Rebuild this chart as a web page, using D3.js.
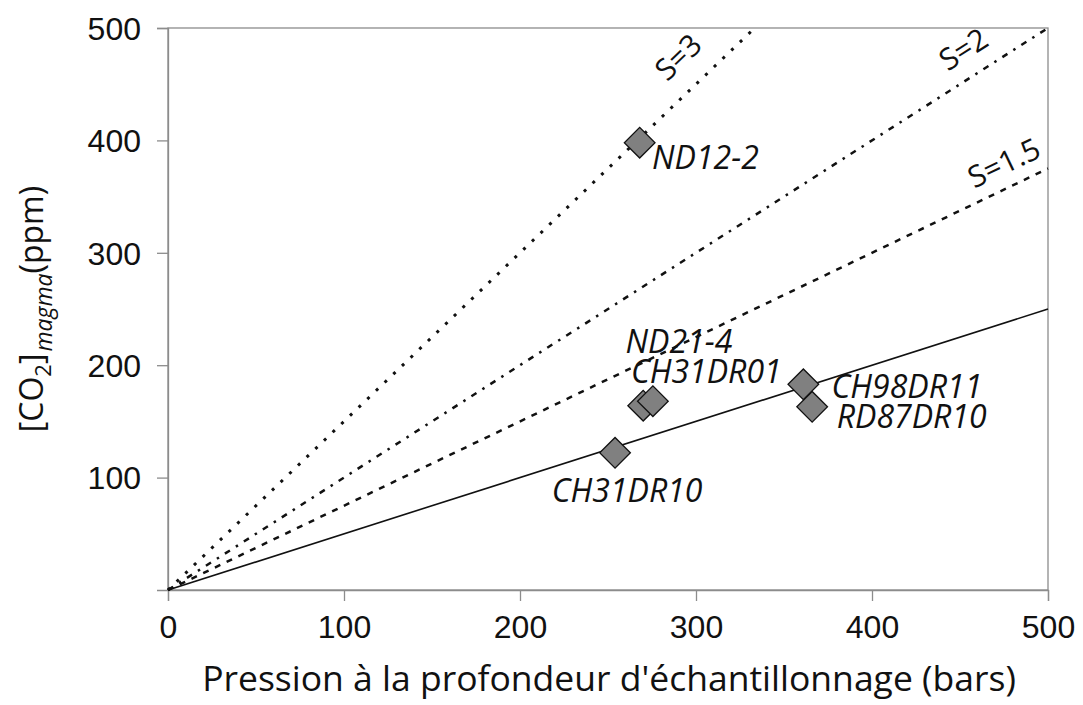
<!DOCTYPE html>
<html><head><meta charset="utf-8">
<script src="https://cdn.jsdelivr.net/npm/d3@7"></script>
<style>body{margin:0;background:#fff}svg{display:block}</style>
</head><body><svg id="c" width="1083" height="705"></svg>
<script>
// ---- data ----
const xTicks = [0, 100, 200, 300, 400, 500];
const yTicks = [100, 200, 300, 400, 500];
const lineNames = ["S=1", "S=1.5", "S=2", "S=3"];
const lineSlopes = [0.5, 0.75, 1.0, 1.5];
const lineLabelX = [null, 475, 452, 290];
const lineLabelY = [null, 380, 481, 474];
const sampleNames = ["ND12-2", "ND21-4", "CH31DR01", "CH31DR10", "CH98DR11", "RD87DR10"];
const sampleP = [268, 270, 275.5, 254, 361, 366];
const sampleCO2 = [398, 164, 168, 122, 183, 163];
const sampleLabelX = [275, 260, 263, 218, 377, 380];
const sampleLabelY = [375, 211, 184, 78, 171, 144];

const W = 1083, H = 705;
const m = {l:168, t:28, r:35, b:115};
const svg = d3.select("#c");
const x = d3.scaleLinear().domain([0,500]).range([m.l, W-m.r]);
const y = d3.scaleLinear().domain([0,500]).range([H-m.b, m.t]);
const grey = "#8c8c8c";

// frame
svg.append("rect").attr("x", m.l).attr("y", m.t).attr("width", W-m.r-m.l).attr("height", H-m.b-m.t)
  .attr("fill","none").attr("stroke", grey).attr("stroke-width",1.3);

const xa = svg.append("g").attr("transform",`translate(0,${H-m.b})`)
  .call(d3.axisBottom(x).tickValues(xTicks).tickSize(11).tickPadding(14).tickFormat(d3.format("d")));
const ya = svg.append("g").attr("transform",`translate(${m.l},0)`)
  .call(d3.axisLeft(y).tickValues(yTicks).tickSize(11).tickPadding(16).tickFormat(d3.format("d")));
[xa, ya].forEach(a => {
  a.select(".domain").attr("stroke", grey).attr("stroke-width",1.3);
  a.selectAll(".tick line").attr("stroke", grey).attr("stroke-width",1.3);
  a.selectAll(".tick text").attr("font-family","Liberation Sans, Arial").attr("font-size",32).attr("fill","#111");
});
xa.selectAll(".tick text").attr("dy","0.71em");
ya.selectAll(".tick text").attr("dy","0.35em");

// lines
const dashes = [null, "6,7", "6,7,2.5,7", "3,9"];
const widths = [1.6, 2.5, 2.5, 3];
lineNames.forEach((n,i) => {
  const s = lineSlopes[i];
  const xEnd = Math.min(500, 500/s);
  svg.append("line").attr("x1", x(0)).attr("y1", y(0)).attr("x2", x(xEnd)).attr("y2", y(s*xEnd))
    .attr("stroke","#111").attr("stroke-width", widths[i])
    .attr("stroke-dasharray", dashes[i]);
  if (lineLabelX[i] !== null) {
    const ang = -Math.atan(s*(y(0)-y(1))/(x(1)-x(0)))*180/Math.PI;
    svg.append("text").attr("transform",`translate(${x(lineLabelX[i])},${y(lineLabelY[i])}) rotate(${ang})`)
      .attr("text-anchor","middle").attr("dy","0.35em")
      .attr("font-family","Open Sans").attr("font-size",30).attr("fill","#111").text(n);
  }
});

// samples
const sym = d3.symbol().type(d3.symbolSquare).size(470);
sampleNames.forEach((n,i) => {
  svg.append("path").attr("d", sym())
    .attr("transform",`translate(${x(sampleP[i])},${y(sampleCO2[i])}) rotate(45)`)
    .attr("fill","#808080").attr("stroke","#111").attr("stroke-width",1.3);
});
sampleNames.forEach((n,i) => {
  svg.append("text").attr("x", x(sampleLabelX[i])).attr("y", y(sampleLabelY[i]))
    .attr("font-family","Open Sans").attr("font-style","italic").attr("font-size",32)
    .attr("fill","#111").text(n);
});

// axis titles
svg.append("text").attr("x", 609).attr("y", 691).attr("text-anchor","middle")
  .attr("font-family","Open Sans").attr("font-size",35.5).attr("fill","#111")
  .text("Pression à la profondeur d'échantillonnage (bars)");
const yt = svg.append("text").attr("transform","translate(43,309) rotate(-90)").attr("text-anchor","middle")
  .attr("font-family","Open Sans").attr("font-size",32).attr("fill","#111");
yt.append("tspan").text("[CO");
yt.append("tspan").attr("font-size",22).attr("dy",8).text("2");
yt.append("tspan").attr("dy",-8).text("]");
yt.append("tspan").attr("font-size",23).attr("font-style","italic").attr("dy",9).attr("dx",2).text("magma");
yt.append("tspan").attr("dy",-9).text("(ppm)");
</script></body></html>
